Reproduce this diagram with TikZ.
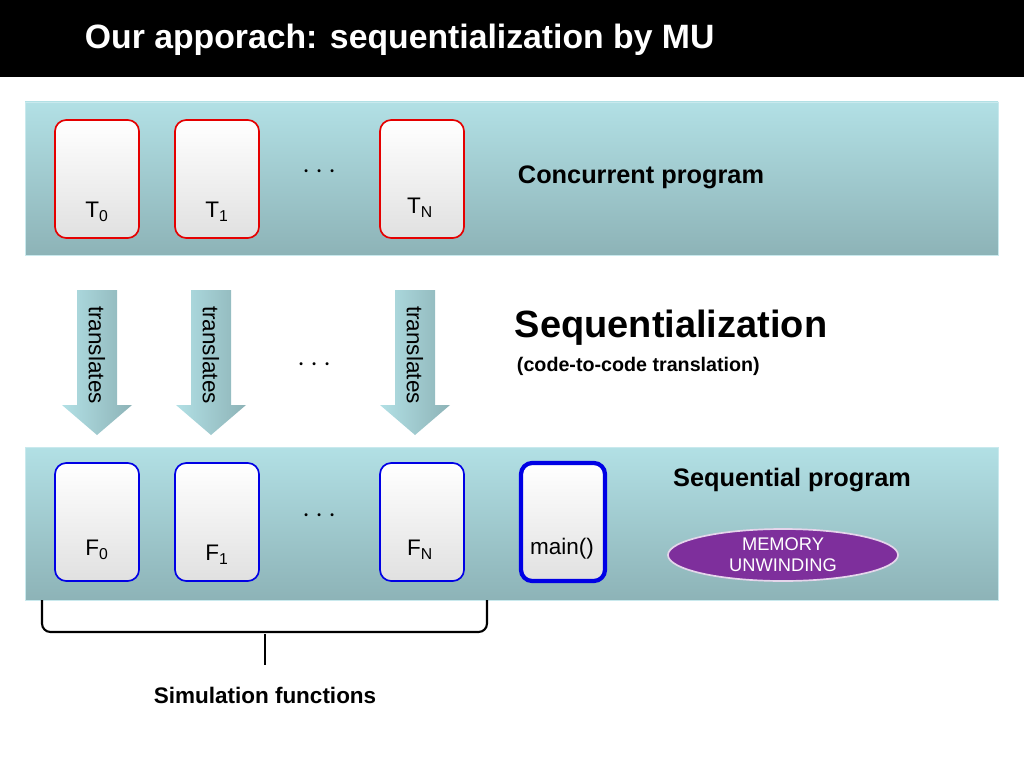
\documentclass[tikz,border=0pt]{standalone}
\usepackage{fontspec}
\setmainfont{Liberation Sans}
\usetikzlibrary{shapes.geometric}
\definecolor{bandtop}{HTML}{B2E0E5}
\definecolor{bandbot}{HTML}{8DB3B7}
\definecolor{purp}{HTML}{7E2F9C}
\begin{document}
\begin{tikzpicture}[%
            x=0.025cm, y=-0.025cm,
            band/.style={top color=bandtop, bottom color=bandbot, draw=bandtop!70!white},
            thread/.style={draw=red!90!black, line width=1.2pt, rounded corners=8pt,
                top color=white, bottom color=black!12, minimum width=2.1cm, minimum height=2.95cm},
            func/.style={thread, draw=blue!90!black},
            lbl/.style={font=\fontsize{16}{18}\selectfont},
            dots/.style={font=\fontsize{22}{24}\selectfont},
            bold/.style={font=\bfseries\fontsize{18}{20}\selectfont},
            transl/.style={left color=bandtop, right color=bandbot}
        ]
        \useasboundingbox (0,0) rectangle (1024,768);
        \fill[black] (0,0) rectangle (1024,77);
        \node[anchor=west, text=white, font=\bfseries\fontsize{24}{28}\selectfont] (title) at (80,40)
            {Our apporach: sequentialization by MU};
        
        % concurrent program
        \path[band] (25,102) rectangle (998,255);
        \node[thread] (t0) at (97,179) {};
        \node[thread] (t1) at (217,179) {};
        \node[thread] (tn) at (422,179) {};
        \node[lbl] (t0l) at (97,212) {T\textsubscript{0}};
        \node[lbl] (t1l) at (217,212) {T\textsubscript{1}};
        \node[lbl] (tnl) at (420,208) {T\textsubscript{N}};
        \node[dots] (dots1) at (320,172) {$\cdots$};
        \node[bold, anchor=west] (conc) at (513,177) {Concurrent program};
        
        % translation
        \foreach \x/\n in {97/a0, 211/a1, 415/an} {
            \path[transl] (\x-20,290) -- (\x+20,290) -- (\x+20,405) -- (\x+35,405)
                -- (\x,435) -- (\x-35,405) -- (\x-20,405) -- cycle;
            \node[rotate=-90, lbl] (\n) at (\x,355) {translates};
        }
        \node[dots] (dots2) at (315,365) {$\cdots$};
        \node[anchor=west, font=\bfseries\fontsize{27}{30}\selectfont] (seq) at (510,328) {Sequentialization};
        \node[anchor=west, font=\bfseries\fontsize{14}{16}\selectfont] (c2c) at (512,366) {(code-to-code translation)};
        
        % sequential program
        \path[band] (25,447) rectangle (998,600);
        \node[func] (f0) at (97,522) {};
        \node[func] (f1) at (217,522) {};
        \node[func] (fn) at (422,522) {};
        \node[func, line width=3pt] (mn) at (563,522) {};
        \node[lbl] (f0l) at (97,550) {F\textsubscript{0}};
        \node[lbl] (f1l) at (217,555) {F\textsubscript{1}};
        \node[lbl] (fnl) at (420,550) {F\textsubscript{N}};
        \node[lbl] (mnl) at (562,549) {main()};
        \node[dots] (dots3) at (320,516) {$\cdots$};
        \node[bold] (seqp) at (792,480) {Sequential program};
        \node[ellipse, draw=white!80!purp, line width=1.2pt, fill=purp, text=white, align=center,
            minimum width=5.75cm, minimum height=1.3cm, inner sep=0pt,
            font=\fontsize{13}{15}\selectfont] (mem) at (783,555) {MEMORY\\UNWINDING};
        
        % simulation functions
        \coordinate (bl) at (42,600);
        \coordinate (br) at (487,600);
        \coordinate (bt) at (265,665);
        \draw[line width=1.5pt, rounded corners=6pt] (bl) |- (bt |- 0,632) -| (br);
        \draw[line width=1.5pt] (bt |- 0,634) -- (bt);
        \node[font=\bfseries\fontsize{16}{18}\selectfont] (sim) at (265,695) {Simulation functions};
    \end{tikzpicture}
\end{document}
